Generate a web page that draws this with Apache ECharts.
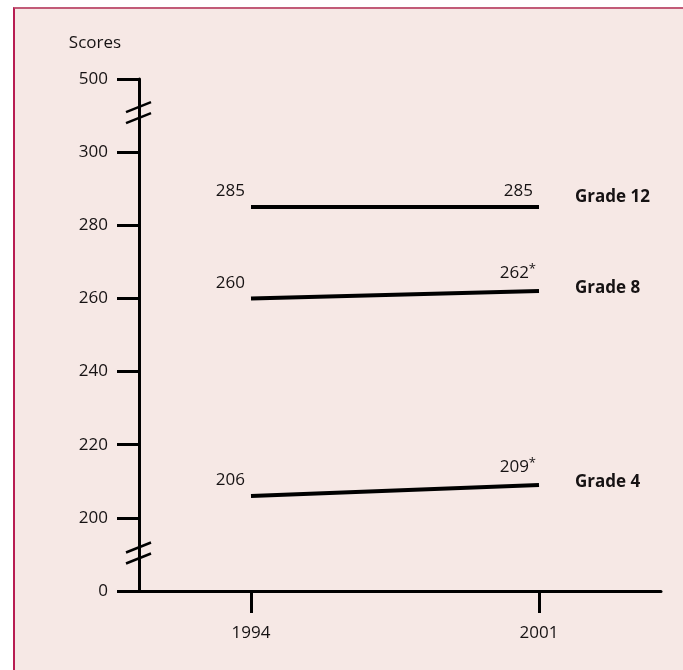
<!DOCTYPE html>
<html>
<head>
<meta charset="utf-8">
<script src="https://cdn.jsdelivr.net/npm/echarts@6/dist/echarts.min.js"></script>
<style>
html,body{margin:0;padding:0;background:#ffffff;width:683px;height:670px;overflow:hidden;}
#frame{position:absolute;left:13px;top:7px;right:0;bottom:0;background:#f6e8e5;border-left:2px solid #b81d52;border-top:2px solid #c25b78;}
#chart{position:absolute;left:0;top:0;width:683px;height:670px;}
</style>
</head>
<body>
<div id="frame"></div>
<div id="chart"></div>
<script>
// ---- data ----
const years = [1994, 2001];
const seriesNames = ['Grade 12', 'Grade 8', 'Grade 4'];
const grade12 = [285, 285];
const grade8 = [260, 262];
const grade4 = [206, 209];
const grade12Sig = [false, false];
const grade8Sig = [false, true];
const grade4Sig = [false, true];
const yTickValues = [0, 200, 220, 240, 260, 280, 300, 500];
const yAxisTitle = 'Scores';

// broken scale: each tick interval gets equal space
function toAxis(v) {
  for (let i = 0; i < yTickValues.length - 1; i++) {
    const a = yTickValues[i], b = yTickValues[i + 1];
    if (v >= a && v <= b) return i + (v - a) / (b - a);
  }
  return yTickValues.length - 1;
}

const FONT = '"Open Sans", sans-serif';
const TXT = '#161213';
const FS = 17;

function makeSeries(name, vals, sig, endOffset) {
  return {
    name: name,
    type: 'line',
    symbol: 'circle',
    symbolSize: 0,
    lineStyle: { color: '#000', width: 4 },
    itemStyle: { color: '#000' },
    data: years.map((y, i) => ({
      value: [y, toAxis(vals[i])],
      label: {
        show: true,
        position: 'top',
        distance: 4,
        align: 'right',
        offset: [i === 0 ? -6 : (sig[i] ? -3 : -6), -3],
        formatter: sig[i] ? '{v|' + vals[i] + '}{s|*}' : '{v|' + vals[i] + '}',
        rich: {
          v: { fontSize: FS, fontFamily: FONT, color: TXT },
          s: { fontSize: 13, fontFamily: FONT, color: TXT, padding: [0, 0, 8, 0] }
        }
      }
    })),
    endLabel: {
      show: true,
      formatter: '{a}',
      distance: 36,
      offset: [0, endOffset],
      fontSize: FS,
      fontWeight: 'bold',
      fontFamily: FONT,
      color: TXT
    }
  };
}

const chart = echarts.init(document.getElementById('chart'), null, { renderer: 'canvas' });
const option = {
  animation: false,
  backgroundColor: 'transparent',
  textStyle: { fontFamily: FONT },
  grid: { left: 139, right: 22, top: 79, bottom: 79, containLabel: false },
  xAxis: {
    type: 'value',
    min: 1991.278,
    max: 2003.965,
    splitLine: { show: false },
    axisLine: { show: true, lineStyle: { color: '#000', width: 3 } },
    axisTick: { show: true, customValues: years, length: 22, lineStyle: { color: '#000', width: 3 } },
    axisLabel: { show: true, customValues: years, margin: 34, fontSize: FS, fontFamily: FONT, color: TXT, formatter: v => String(v) }
  },
  yAxis: {
    type: 'value',
    min: 0,
    max: yTickValues.length - 1,
    interval: 1,
    name: yAxisTitle,
    nameLocation: 'end',
    nameGap: 27,
    nameTextStyle: { fontSize: FS, fontFamily: FONT, color: TXT, padding: [0, 88, 0, 0] },
    splitLine: { show: false },
    axisLine: { show: true, lineStyle: { color: '#000', width: 3 } },
    axisTick: { show: true, length: 22, lineStyle: { color: '#000', width: 3 } },
    axisLabel: { margin: 31, fontSize: FS, fontFamily: FONT, color: TXT, formatter: v => String(yTickValues[Math.round(v)]) }
  },
  series: [
    makeSeries(seriesNames[0], grade12, grade12Sig, -10),
    makeSeries(seriesNames[1], grade8, grade8Sig, -3),
    makeSeries(seriesNames[2], grade4, grade4Sig, -3)
  ]
};
chart.setOption(option);

// axis break marks
function breakMark(axisVal) {
  const p = chart.convertToPixel({ gridIndex: 0 }, [1991.278, axisVal]);
  const cx = p[0], cy = p[1];
  const mk = (dy) => ({
    type: 'line',
    shape: { x1: cx - 13, y1: cy + dy + 5, x2: cx + 12, y2: cy + dy - 5 },
    style: { stroke: '#000', lineWidth: 2.5 },
    z: 10
  });
  return [mk(-5.5), mk(5.5)];
}
chart.setOption({ graphic: [].concat(breakMark(6.54), breakMark(0.52)) });
</script>
</body>
</html>
